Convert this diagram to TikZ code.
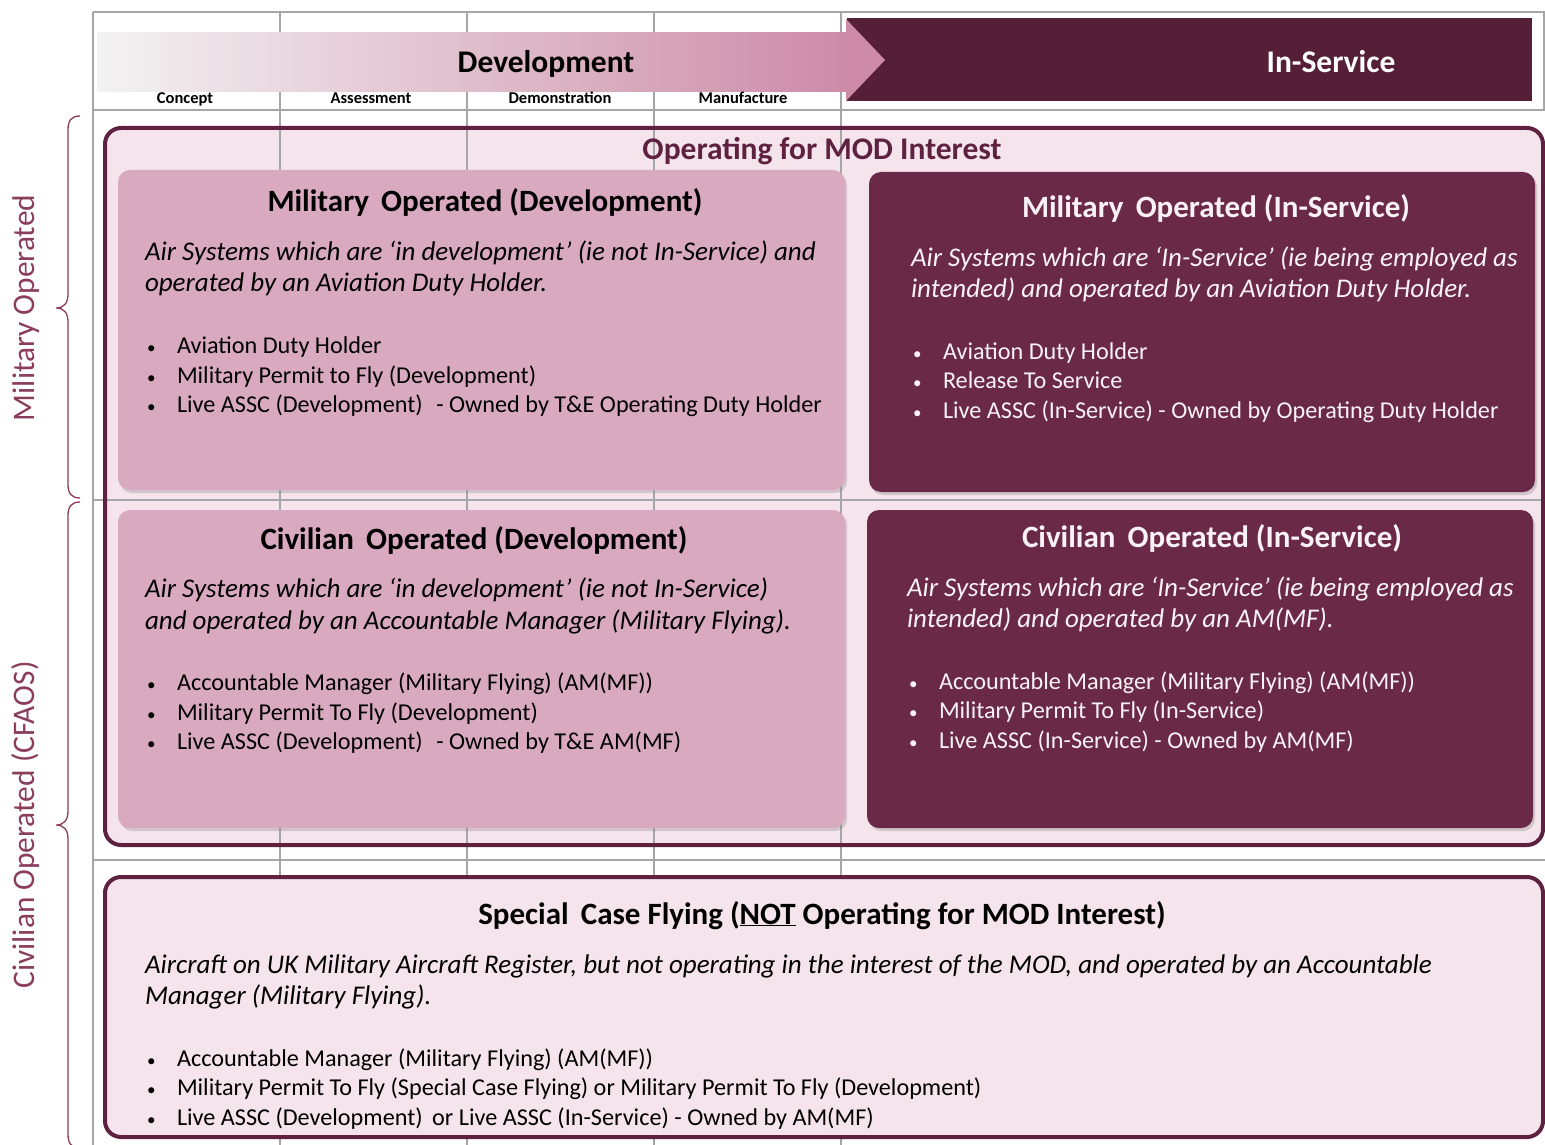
\documentclass[tikz,border=0pt]{standalone}
\usepackage{fontspec}
\setmainfont{Carlito}
\usetikzlibrary{shadows}
\definecolor{hdrdark}{HTML}{561F38}
\definecolor{boxdark}{HTML}{6A2A47}
\definecolor{boxlight}{HTML}{D9AABF}
\definecolor{paleP}{HTML}{F5E4EC}
\definecolor{framec}{HTML}{5E2240}
\definecolor{wine}{HTML}{8A3D5D}
\definecolor{gridc}{HTML}{A6A6A6}
\definecolor{arrowend}{HTML}{CD8BA7}
\definecolor{arrowmid}{HTML}{E3C5D2}
\definecolor{arrowstart}{HTML}{F2F2F2}
\definecolor{txtlight}{HTML}{FAF2F6}
\newcommand\tl[5]{\node[#1, anchor=base west] (#2) at (#3,#4) {#5};}
\newcommand\bl[6]{\node[buldot, text=#1, anchor=base west] (#2-dot) at (#3,#5) {•};
  \node[bultxt, text=#1, anchor=base west] (#2) at (#4,#5) {#6};}
\begin{document}
\begin{tikzpicture}[x=1pt,y=-1pt,
  every node/.style={inner sep=0pt, outer sep=0pt},
  gridline/.style={draw=gridc, line width=1.6pt},
  lightbox/.style={fill=boxlight, rounded corners=12pt, anchor=north west,
     drop shadow={shadow xshift=2pt, shadow yshift=-3pt, opacity=0.3}},
  darkbox/.style={fill=boxdark, rounded corners=12pt, anchor=north west,
     drop shadow={shadow xshift=2pt, shadow yshift=-3pt, opacity=0.3}},
  framebox/.style={draw=framec, line width=4pt, rounded corners=16pt},
  boxtitle/.style={font=\bfseries\fontsize{31}{36}\selectfont, anchor=base},
  desc/.style={font=\itshape\fontsize{27}{32}\selectfont},
  bultxt/.style={font=\fontsize{24.2}{29}\selectfont},
  buldot/.style={font=\fontsize{17}{20}\selectfont},
  phase/.style={font=\bfseries\fontsize{16.5}{19}\selectfont, anchor=base},
  hdrtext/.style={font=\bfseries\fontsize{31.5}{36}\selectfont, anchor=base},
  sidelabel/.style={text=wine, font=\fontsize{31.4}{36}\selectfont, rotate=90},
  bracec/.style={draw=wine, line width=1.3pt}
]
\path[use as bounding box, fill=white] (0,0) rectangle (1545,1145);

% outer box fill
\fill[paleP, rounded corners=16pt] (105,128) rectangle (1543,845);

% grid
\draw[gridline] (93,12) -- (1545,12);
\draw[gridline] (93,110) -- (1545,110);
\draw[gridline] (93,500) -- (1545,500);
\draw[gridline] (93,860) -- (1545,860);
\foreach \gx in {93,280,467,654,841} { \draw[gridline] (\gx,12) -- (\gx,1145); }
\draw[gridline] (1544,12) -- (1544,110);

% header
\shade[left color=arrowstart, middle color=arrowmid, right color=arrowend]
  (97,33) -- (847,33) -- (847,92) -- (97,92) -- cycle;
\fill[hdrdark] (847,18) rectangle (1532,101);
\fill[arrowend] (846,19) -- (885,60) -- (846,101) -- cycle;
\node[hdrtext] (dev) at (546,73) {Development};
\node[hdrtext, text=white] (ins) at (1331,73) {In-Service};
\node[phase] (p1) at (185,104) {Concept};
\node[phase] (p2) at (371,104) {Assessment};
\node[phase] (p3) at (560,104) {Demonstration};
\node[phase] (p4) at (743,104) {Manufacture};

% outer frame
\draw[framebox] (105,128) rectangle (1543,845);
\node[hdrtext, text=framec] (opmod) at (822,160) {Operating for MOD Interest};

% inner boxes
\node[lightbox, minimum width=727pt, minimum height=320pt] (mdbox) at (118,170) {};
\node[darkbox, minimum width=666pt, minimum height=320pt] (mibox) at (869,172) {};
\node[lightbox, minimum width=727pt, minimum height=318pt] (cdbox) at (118,510) {};
\node[darkbox, minimum width=666pt, minimum height=318pt] (cibox) at (867,510) {};

% special box
\draw[framebox, fill=paleP] (105,877) rectangle (1543,1137);

% Military Operated (Development)
\node[boxtitle] (mdt) at (485,211) {Military\, Operated (Development)};
\tl{desc}{md1}{145}{260}{Air Systems which are ‘in development’ (ie not In-Service) and}
\tl{desc}{md2}{145}{291}{operated by an Aviation Duty Holder.}
\bl{black}{mdb1}{147}{177}{353}{Aviation Duty Holder}
\bl{black}{mdb2}{147}{177}{383}{Military Permit to Fly (Development)}
\bl{black}{mdb3}{147}{177}{412}{Live ASSC (Development)\,\, - Owned by T\&E Operating Duty Holder}

% Military Operated (In-Service)
\node[boxtitle, text=txtlight] (mit) at (1216,217) {Military\, Operated (In-Service)};
\tl{desc, text=txtlight}{mi1}{911}{266}{Air Systems which are ‘In-Service’ (ie being employed as}
\tl{desc, text=txtlight}{mi2}{911}{297}{intended) and operated by an Aviation Duty Holder.}
\bl{txtlight}{mib1}{913}{943}{359}{Aviation Duty Holder}
\bl{txtlight}{mib2}{913}{943}{388}{Release To Service}
\bl{txtlight}{mib3}{913}{943}{418}{Live ASSC (In-Service) - Owned by Operating Duty Holder}

% Civilian Operated (Development)
\node[boxtitle] (cdt) at (474,549) {Civilian\, Operated (Development)};
\tl{desc}{cd1}{145}{597}{Air Systems which are ‘in development’ (ie not In-Service)}
\tl{desc}{cd2}{145}{629}{and operated by an Accountable Manager (Military Flying).}
\bl{black}{cdb1}{147}{177}{690}{Accountable Manager (Military Flying) (AM(MF))}
\bl{black}{cdb2}{147}{177}{720}{Military Permit To Fly (Development)}
\bl{black}{cdb3}{147}{177}{749}{Live ASSC (Development)\,\, - Owned by T\&E AM(MF)}

% Civilian Operated (In-Service)
\node[boxtitle, text=txtlight] (cit) at (1212,547) {Civilian\, Operated (In-Service)};
\tl{desc, text=txtlight}{ci1}{907}{596}{Air Systems which are ‘In-Service’ (ie being employed as}
\tl{desc, text=txtlight}{ci2}{907}{627}{intended) and operated by an AM(MF).}
\bl{txtlight}{cib1}{909}{939}{689}{Accountable Manager (Military Flying) (AM(MF))}
\bl{txtlight}{cib2}{909}{939}{718}{Military Permit To Fly (In-Service)}
\bl{txtlight}{cib3}{909}{939}{748}{Live ASSC (In-Service) - Owned by AM(MF)}

% Special case
\node[boxtitle] (sct) at (822,924) {Special\, Case Flying (\underline{NOT} Operating for MOD Interest)};
\tl{desc}{sc1}{145}{973}{Aircraft on UK Military Aircraft Register, but not operating in the interest of the MOD, and operated by an Accountable}
\tl{desc}{sc2}{145}{1004}{Manager (Military Flying).}
\bl{black}{scb1}{147}{177}{1066}{Accountable Manager (Military Flying) (AM(MF))}
\bl{black}{scb2}{147}{177}{1095}{Military Permit To Fly (Special Case Flying) or Military Permit To Fly (Development)}
\bl{black}{scb3}{147}{177}{1125}{Live ASSC (Development)\, or Live ASSC (In-Service) - Owned by AM(MF)}

% side braces and labels
\draw[bracec] (80,116) .. controls (71,116) and (68,121) .. (68,130) -- (68,294)
  .. controls (68,303) and (64,308) .. (56,308) .. controls (64,308) and (68,313) .. (68,322)
  -- (68,484) .. controls (68,493) and (71,498) .. (80,498);
\draw[bracec] (80,502) .. controls (71,502) and (68,507) .. (68,516) -- (68,811)
  .. controls (68,820) and (64,825) .. (56,825) .. controls (64,825) and (68,830) .. (68,839)
  -- (68,1134) .. controls (68,1143) and (71,1148) .. (80,1148);
\node[sidelabel] (milop) at (26,308) {Military Operated};
\node[sidelabel] (civop) at (26,825) {Civilian Operated (CFAOS)};
\end{tikzpicture}
\end{document}
